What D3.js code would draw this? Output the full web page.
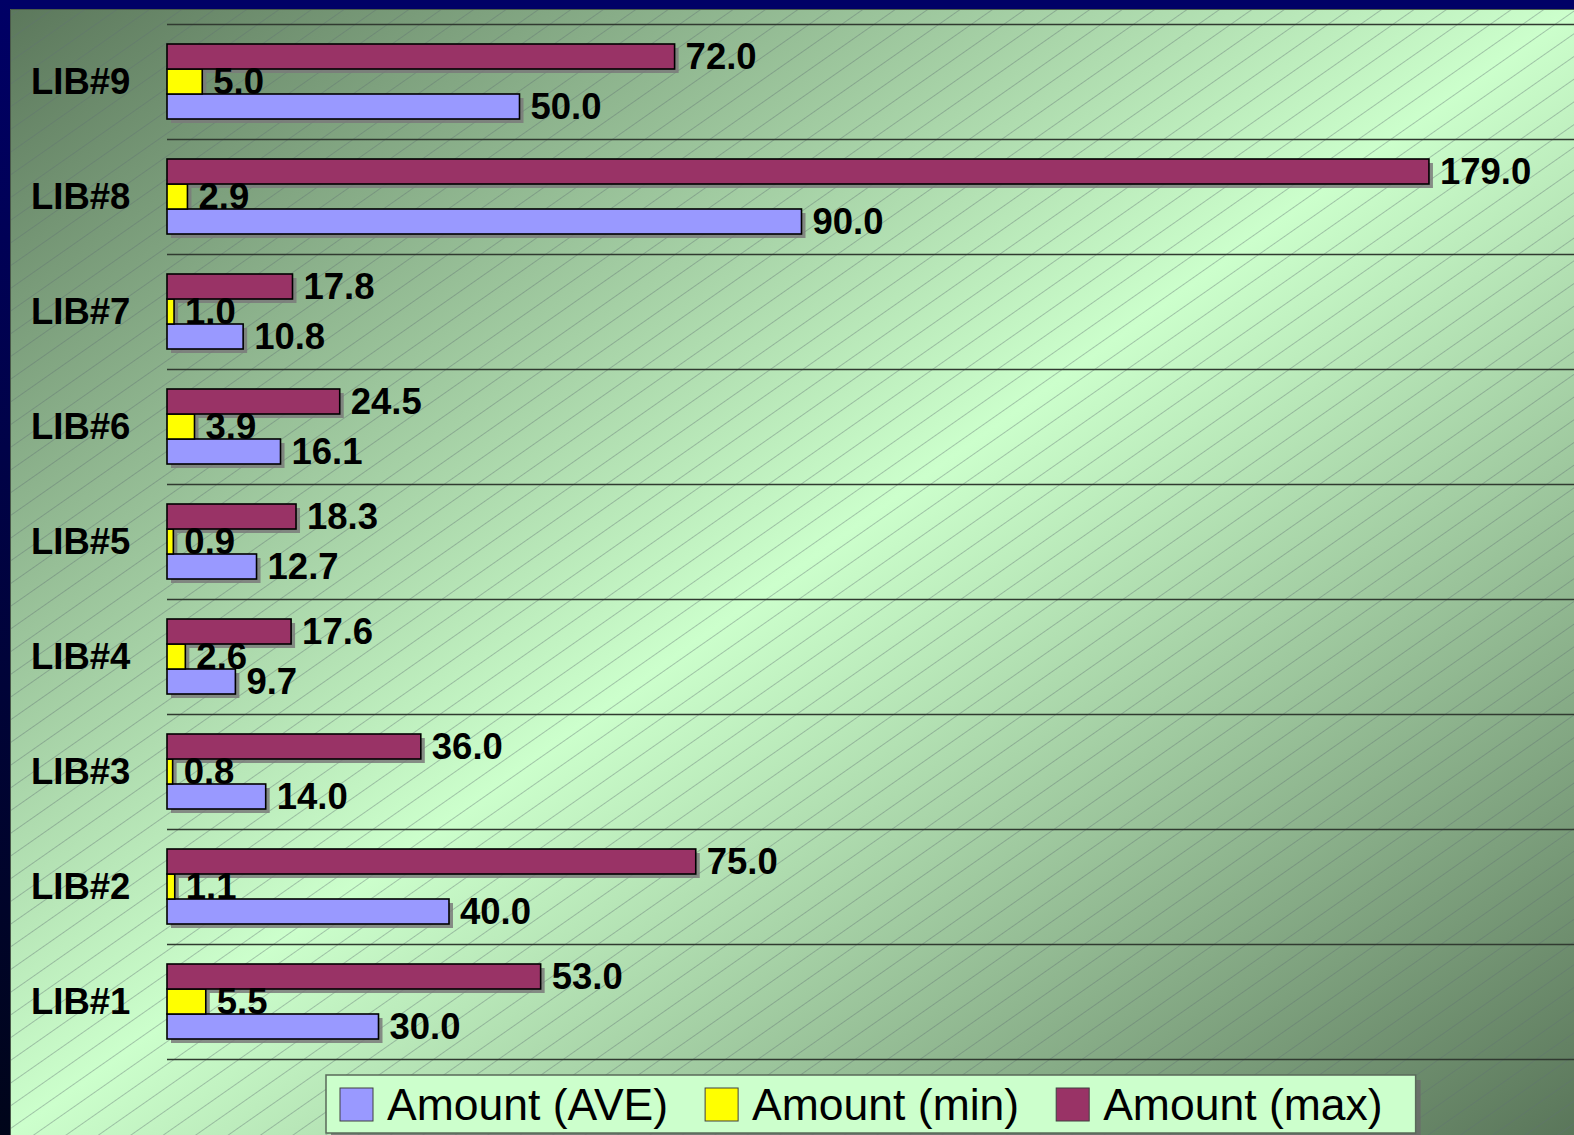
<!DOCTYPE html>
<html>
<head>
<meta charset="utf-8">
<script src="https://cdn.jsdelivr.net/npm/d3@7"></script>
<style>
  html, body { margin: 0; padding: 0; background: #000066; overflow: hidden; }
  svg { display: block; }
</style>
</head>
<body>
<svg id="chart" width="1574" height="1135"></svg>
<script>
// ---- data ----
const categories = ["LIB#9", "LIB#8", "LIB#7", "LIB#6", "LIB#5", "LIB#4", "LIB#3", "LIB#2", "LIB#1"];
const aveValues = [50.0, 90.0, 10.8, 16.1, 12.7, 9.7, 14.0, 40.0, 30.0];
const minValues = [5.0, 2.9, 1.0, 3.9, 0.9, 2.6, 0.8, 1.1, 5.5];
const maxValues = [72.0, 179.0, 17.8, 24.5, 18.3, 17.6, 36.0, 75.0, 53.0];
const seriesNames = ["Amount (AVE)", "Amount (min)", "Amount (max)"];
const seriesColors = ["#9999ff", "#ffff00", "#993366"];
const xDomain = [0, 200];

// ---- setup ----
const W = 1574, H = 1135;
const svg = d3.select("#chart");
const defs = svg.append("defs");

// frame left gradient
const lg = defs.append("linearGradient").attr("id", "frameGrad")
  .attr("x1", 0).attr("y1", 0).attr("x2", 0).attr("y2", 1);
lg.append("stop").attr("offset", 0).attr("stop-color", "#000066");
lg.append("stop").attr("offset", 1).attr("stop-color", "#00051a");

// background diagonal gradient
const bg = defs.append("linearGradient").attr("id", "bgGrad")
  .attr("x1", 0).attr("y1", 0).attr("x2", 1).attr("y2", 1);
bg.append("stop").attr("offset", 0).attr("stop-color", "#5c785c");
bg.append("stop").attr("offset", 0.5).attr("stop-color", "#ccffcc");
bg.append("stop").attr("offset", 1).attr("stop-color", "#5a765a");

// hatch pattern
const pat = defs.append("pattern").attr("id", "hatch")
  .attr("patternUnits", "userSpaceOnUse")
  .attr("width", 20).attr("height", 18.6)
  .attr("patternTransform", "rotate(-35)");
pat.append("line").attr("x1", 0).attr("x2", 20).attr("y1", 0.5).attr("y2", 0.5)
  .attr("stroke", "#5f7070").attr("stroke-opacity", 0.45).attr("stroke-width", 0.9);

// frame
svg.append("rect").attr("x", 0).attr("y", 0).attr("width", W).attr("height", H).attr("fill", "#000066");
svg.append("rect").attr("x", 0).attr("y", 0).attr("width", 10).attr("height", H).attr("fill", "url(#frameGrad)");

// inner background
svg.append("rect").attr("x", 10).attr("y", 9).attr("width", W - 10).attr("height", H - 9)
  .attr("fill", "url(#bgGrad)");
svg.append("rect").attr("x", 10).attr("y", 9).attr("width", W - 10).attr("height", H - 9)
  .attr("fill", "url(#hatch)");
svg.append("path").attr("d", `M10.5,${H} V9.5 H${W}`).attr("fill", "none")
  .attr("stroke", "#4a5a4a").attr("stroke-width", 1);

// ---- scales ----
const x0 = 167;
const x = d3.scaleLinear().domain(xDomain).range([x0, x0 + 1410]);
const y = d3.scaleBand().domain(categories).range([24, 1059]).padding(0);
const bw = y.bandwidth();
const sub = d3.scaleBand().domain([2, 1, 0]).range([bw / 2 - 37.5, bw / 2 + 37.5]).padding(0);

// gridlines (band boundaries)
const gridY = categories.map(c => y(c)).concat([y(categories[categories.length - 1]) + bw]);
svg.append("g").selectAll("line").data(gridY).join("line")
  .attr("x1", x0).attr("x2", W)
  .attr("y1", d => Math.round(d) + 0.5).attr("y2", d => Math.round(d) + 0.5)
  .attr("stroke", "#303a30").attr("stroke-width", 1.3);

// bar records
const seriesValues = [aveValues, minValues, maxValues];
const bars = [];
categories.forEach((c, i) => {
  seriesValues.forEach((vals, s) => {
    bars.push({ cat: c, s: s, v: vals[i] });
  });
});

// shadows
svg.append("g").selectAll("rect").data(bars).join("rect")
  .attr("x", x(0) + 4)
  .attr("y", d => y(d.cat) + sub(d.s) + 4)
  .attr("width", d => x(d.v) - x(0))
  .attr("height", sub.bandwidth())
  .attr("fill", "#7a7a7a").attr("fill-opacity", 0.85);

// bars
svg.append("g").selectAll("rect").data(bars).join("rect")
  .attr("x", x(0))
  .attr("y", d => y(d.cat) + sub(d.s))
  .attr("width", d => x(d.v) - x(0))
  .attr("height", sub.bandwidth())
  .attr("fill", d => seriesColors[d.s])
  .attr("stroke", "#000").attr("stroke-width", 1.6);

// value labels
svg.append("g").selectAll("text").data(bars).join("text")
  .attr("x", d => x(d.v) + 11)
  .attr("y", d => y(d.cat) + sub(d.s) + sub.bandwidth() / 2)
  .attr("dy", "0.35em")
  .attr("font-family", "'Liberation Sans', Arial, sans-serif")
  .attr("font-weight", "bold").attr("font-size", 36.5)
  .attr("fill", "#000")
  .text(d => d.v.toFixed(1));

// category labels
svg.append("g").selectAll("text").data(categories).join("text")
  .attr("x", 31)
  .attr("y", d => y(d) + bw / 2)
  .attr("dy", "0.35em")
  .attr("font-family", "'Liberation Sans', Arial, sans-serif")
  .attr("font-weight", "bold").attr("font-size", 36.5)
  .attr("fill", "#000")
  .text(d => d);

// ---- legend ----
const legY = 1075, legH = 58, legX = 326;
const leg = svg.append("g");
const legShadow = leg.append("rect").attr("fill", "#6a6a6a").attr("fill-opacity", 0.8);
const legBox = leg.append("rect").attr("fill", "#ccffcc").attr("stroke", "#5a6a5a").attr("stroke-width", 1.5);
let cx = 340;
seriesNames.forEach((name, i) => {
  leg.append("rect").attr("x", cx).attr("y", 1088).attr("width", 33).attr("height", 33)
    .attr("fill", seriesColors[i]).attr("stroke", "#404040").attr("stroke-width", 1);
  const t = leg.append("text").attr("x", cx + 47).attr("y", 1120)
    .attr("font-family", "'Liberation Sans', Arial, sans-serif")
    .attr("font-size", 44.5).attr("fill", "#000").text(name);
  const w = t.node().getComputedTextLength();
  cx = cx + 47 + w + (i < seriesNames.length - 1 ? 37 : 33);
});
legBox.attr("x", legX).attr("y", legY).attr("width", cx - legX).attr("height", legH);
legShadow.attr("x", legX + 5).attr("y", legY + 5).attr("width", cx - legX).attr("height", legH);
</script>
</body>
</html>
